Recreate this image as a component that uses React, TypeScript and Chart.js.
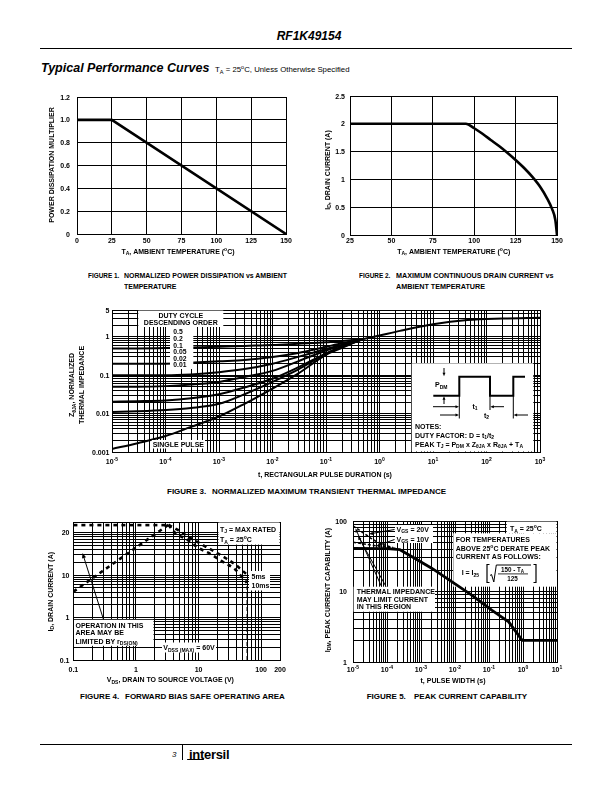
import React, { useEffect, useRef } from "react";
import { Chart, registerables } from "chart.js";

Chart.register(...registerables);

const FONT = "'Liberation Sans', Arial, Helvetica, sans-serif";

/* ================= DATA ================= */
// Figure 1 - normalized power dissipation vs ambient temperature
const fig1Temperature = [0, 25, 150];
const fig1Multiplier = [1.0, 1.0, 0.0];
const fig1XTicks = [0, 25, 50, 75, 100, 125, 150];
const fig1YTicks = [0, 0.2, 0.4, 0.6, 0.8, 1.0, 1.2];
const fig1YLabels = ["0", "0.2", "0.4", "0.6", "0.8", "1.0", "1.2"];

// Figure 2 - maximum continuous drain current vs ambient temperature
const fig2Temperature = [25, 95, 100, 105, 110, 115, 120, 125, 130, 135, 140, 144, 147, 149, 150];
const fig2DrainCurrent = [2, 2, 1.92, 1.82, 1.71, 1.6, 1.48, 1.35, 1.21, 1.05, 0.86, 0.66, 0.47, 0.27, 0];
const fig2XTicks = [25, 50, 75, 100, 125, 150];
const fig2YTicks = [0, 0.5, 1, 1.5, 2, 2.5];
const fig2YLabels = ["0", "0.5", "1", "1.5", "2", "2.5"];

// Figure 3 - normalized transient thermal impedance
const fig3Time = [1e-5, 3e-5, 1e-4, 3e-4, 1e-3, 3e-3, 1e-2, 3e-2, 1e-1, 2e-1, 5e-1];
const fig3Duty050 = [0.5, 0.5, 0.51, 0.53, 0.55, 0.58, 0.61, 0.66, 0.72, 0.78, 0.87];
const fig3Duty020 = [0.2, 0.2, 0.2, 0.21, 0.23, 0.25, 0.3, 0.38, 0.55, 0.68, 0.87];
const fig3Duty010 = [0.1, 0.1, 0.1, 0.105, 0.12, 0.145, 0.2, 0.3, 0.48, 0.62, 0.87];
const fig3Duty005 = [0.05, 0.05, 0.052, 0.057, 0.067, 0.09, 0.13, 0.23, 0.44, 0.6, 0.87];
const fig3Duty002 = [0.0205, 0.021, 0.022, 0.025, 0.032, 0.048, 0.081, 0.16, 0.37, 0.56, 0.87];
const fig3Duty001 = [0.011, 0.0115, 0.0124, 0.014, 0.018, 0.032, 0.067, 0.14, 0.36, 0.55, 0.87];
const fig3SingleTime = [1e-5, 3e-5, 1e-4, 3e-4, 1e-3, 3e-3, 1e-2, 3e-2, 1e-1, 2e-1, 5e-1, 1, 2.4, 10, 44, 200, 1000];
const fig3SinglePulse = [0.0012, 0.0017, 0.0026, 0.0045, 0.0084, 0.018, 0.045, 0.11, 0.34, 0.52, 0.87, 1.08, 1.43, 2.13, 2.74, 3.0, 3.16];
const fig3DutyLabels = ["0.5", "0.2", "0.1", "0.05", "0.02", "0.01"];
const fig3XExponents = [-5, -4, -3, -2, -1, 0, 1, 2, 3];
const fig3YTicks = [0.001, 0.01, 0.1, 1, 5];
const fig3YLabels = ["0.001", "0.01", "0.1", "1", "5"];

// Figure 4 - forward bias safe operating area
const fig4RdsVoltage = [0.1, 3.3];
const fig4RdsCurrent = [4.1, 155];
const fig4LimitVoltage = [0.1, 3.3];
const fig4LimitCurrent = [152, 152];
const fig4Voltage5ms = [3.3, 4.5, 7.35, 11.3, 17.4, 26.6, 38.5, 59];
const fig4Current5ms = [155, 120, 76, 53, 37, 25.7, 17.9, 10.4];
const fig4Voltage10ms = [3.3, 4.2, 6.5, 10, 15.3, 23.5, 38.5, 59];
const fig4Current10ms = [155, 100, 70, 44, 32, 21.4, 13.6, 6.6];
const fig4VdssVoltage = [60, 60];
const fig4VdssCurrent = [0.1, 10];
const fig4XTicks = [0.1, 1, 10, 100, 200];
const fig4XLabels = ["0.1", "1", "10", "100", "200"];
const fig4YTicks = [0.1, 1, 10, 100];
const fig4YLabels = ["0.1", "1", "10", "20"];

// Figure 5 - peak current capability
const fig5Time = [1e-5, 1e-4, 2.4e-4, 5.3e-4, 2.06e-3, 8e-3, 3.1e-2, 1.23e-1, 3.8e-1, 9.5e-1, 10];
const fig5Current = [41, 40.5, 39.2, 31.4, 21.4, 13.8, 8.9, 5.4, 3.7, 2.03, 2.03];
const fig5Time20V = [1e-5, 2e-5, 4e-5, 8e-5, 1.5e-4];
const fig5Current20V = [85, 68, 54, 46, 42];
const fig5Time10V = [1e-5, 3e-5, 1e-4, 2e-4];
const fig5Current10V = [50, 46, 42.5, 40.5];
const fig5XExponents = [-5, -4, -3, -2, -1, 0, 1];
const fig5YTicks = [1, 10, 100];
const fig5YLabels = ["1", "10", "100"];

/* ================= HELPERS ================= */
type Seg = { t: string; k: number };
function parseRich(s: string): Seg[] {
  const out: Seg[] = [];
  const re = /([_^])\{([^}]*)\}/g;
  let last = 0;
  let m: any;
  while ((m = re.exec(s))) {
    if (m.index > last) out.push({ t: s.slice(last, m.index), k: 0 });
    out.push({ t: m[2], k: m[1] === "_" ? 1 : 2 });
    last = re.lastIndex;
  }
  if (last < s.length) out.push({ t: s.slice(last), k: 0 });
  return out;
}
function fontFor(size: number, k: number, weight: string) {
  const sz = k ? size * 0.72 : size;
  return `${weight} ${sz}px ${FONT}`;
}
function rich(ctx: any, s: string, x: number, y: number, size: number, align = "left", weight = "bold") {
  const segs = parseRich(s);
  let w = 0;
  for (const g of segs) {
    ctx.font = fontFor(size, g.k, weight);
    w += ctx.measureText(g.t).width;
  }
  let cx = align === "center" ? x - w / 2 : align === "right" ? x - w : x;
  ctx.textAlign = "left";
  ctx.textBaseline = "alphabetic";
  ctx.fillStyle = "#000";
  for (const g of segs) {
    ctx.font = fontFor(size, g.k, weight);
    const dy = g.k === 1 ? size * 0.28 : g.k === 2 ? -size * 0.42 : 0;
    ctx.fillText(g.t, cx, y + dy);
    cx += ctx.measureText(g.t).width;
  }
  return w;
}
function vrich(ctx: any, s: string, xc: number, yc: number, size: number) {
  ctx.save();
  ctx.translate(xc + size * 0.36, yc);
  ctx.rotate(-Math.PI / 2);
  rich(ctx, s, 0, 0, size, "center");
  ctx.restore();
}
function poly(ctx: any, pts: number[][], width = 1) {
  ctx.strokeStyle = "#000";
  ctx.lineWidth = width;
  ctx.setLineDash([]);
  ctx.beginPath();
  pts.forEach((p, i) => (i ? ctx.lineTo(p[0], p[1]) : ctx.moveTo(p[0], p[1])));
  ctx.stroke();
}
function arrow(ctx: any, x1: number, y1: number, x2: number, y2: number, head = 4, width = 1) {
  const a = Math.atan2(y2 - y1, x2 - x1);
  const c = Math.cos(a), s = Math.sin(a);
  poly(ctx, [[x1, y1], [x2 - c * head * 0.7, y2 - s * head * 0.7]], width);
  ctx.fillStyle = "#000";
  ctx.beginPath();
  ctx.moveTo(x2, y2);
  ctx.lineTo(x2 - head * c + head * 0.42 * s, y2 - head * s - head * 0.42 * c);
  ctx.lineTo(x2 - head * c - head * 0.42 * s, y2 - head * s + head * 0.42 * c);
  ctx.closePath();
  ctx.fill();
}
function white(ctx: any, x: number, y: number, w: number, h: number) {
  ctx.fillStyle = "#fff";
  ctx.fillRect(x, y, w, h);
  ctx.fillStyle = "#000";
}
function logGrid(min: number, max: number) {
  const out: number[] = [];
  const e0 = Math.floor(Math.log10(min) + 1e-9);
  const e1 = Math.ceil(Math.log10(max) - 1e-9);
  for (let e = e0; e <= e1; e++) {
    for (let m = 1; m < 10; m++) {
      const v = m * Math.pow(10, e);
      if (v >= min * 0.999 && v <= max * 1.001) out.push(v);
    }
  }
  if (out[out.length - 1] < max * 0.999) out.push(max);
  return out;
}
function axis(type: string, min: number, max: number, gridValues: number[], position: string) {
  return {
    type,
    position,
    min,
    max,
    ticks: { display: false },
    afterBuildTicks: (s: any) => {
      s.ticks = gridValues.map((v) => ({ value: v }));
    },
    grid: { color: "#000", lineWidth: 1, drawTicks: false },
    border: { display: true, color: "#000", width: 1 },
  };
}
function series(xs: number[], ys: number[], width: number, dash: number[] = [], smooth = false) {
  return {
    data: xs.map((x, i) => ({ x, y: ys[i] })),
    showLine: true,
    borderColor: "#000",
    backgroundColor: "#000",
    borderWidth: width,
    borderDash: dash,
    pointRadius: 0,
    fill: false,
    tension: 0,
    cubicInterpolationMode: smooth ? "monotone" : "default",
    borderCapStyle: "butt",
    borderJoinStyle: "round",
  };
}
type Helper = { sx: (v: number) => number; sy: (v: number) => number; l: number; t: number; r: number; b: number };
type DrawFn = (ctx: any, h: Helper) => void;
function makePlugin(ox: number, oy: number, before: DrawFn | null, after: DrawFn | null) {
  const run = (chart: any, fn: DrawFn | null) => {
    if (!fn) return;
    const ctx = chart.ctx;
    const a = chart.chartArea;
    const h: Helper = {
      sx: (v) => chart.scales.x.getPixelForValue(v) + ox,
      sy: (v) => chart.scales.y.getPixelForValue(v) + oy,
      l: a.left + ox,
      t: a.top + oy,
      r: a.right + ox,
      b: a.bottom + oy,
    };
    ctx.save();
    ctx.translate(-ox, -oy);
    fn(ctx, h);
    ctx.restore();
  };
  return {
    id: "sheetDraw",
    beforeDatasetsDraw: (c: any) => run(c, before),
    afterDatasetsDraw: (c: any) => run(c, after),
  };
}
function baseConfig(datasets: any[], xAxis: any, yAxis: any, plugin: any) {
  return {
    type: "scatter",
    data: { datasets },
    options: {
      responsive: false,
      animation: false,
      events: [],
      layout: { padding: 0 },
      plugins: { legend: { display: false }, tooltip: { enabled: false }, title: { display: false } },
      scales: { x: xAxis, y: yAxis },
    },
    plugins: [plugin],
  };
}

/* ================= FIGURE BUILDERS ================= */
const buildFig1 = (ox: number, oy: number) =>
  baseConfig(
    [series(fig1Temperature, fig1Multiplier, 2.6)],
    axis("linear", 0, 150, fig1XTicks, "bottom"),
    axis("linear", 0, 1.2, fig1YTicks, "left"),
    makePlugin(ox, oy, null, (ctx, h) => {
      fig1XTicks.forEach((v) => rich(ctx, String(v), h.sx(v), 243.2, 7, "center"));
      fig1YTicks.forEach((v, i) => rich(ctx, fig1YLabels[i], 70, h.sy(v) + 2.5, 7, "right"));
      rich(ctx, "T_{A}, AMBIENT TEMPERATURE (^{o}C)", 178, 253.5, 7, "center");
      vrich(ctx, "POWER DISSIPATION MULTIPLIER", 51, 165, 7);
    })
  );

const buildFig2 = (ox: number, oy: number) =>
  baseConfig(
    [series(fig2Temperature, fig2DrainCurrent, 2.6, [], true)],
    axis("linear", 25, 150, fig2XTicks, "bottom"),
    axis("linear", 0, 2.5, fig2YTicks, "left"),
    makePlugin(ox, oy, null, (ctx, h) => {
      fig2XTicks.forEach((v) => rich(ctx, String(v), h.sx(v), 243.2, 7, "center"));
      fig2YTicks.forEach((v, i) => rich(ctx, fig2YLabels[i], 345, h.sy(v) + 2.5, 7, "right"));
      rich(ctx, "T_{A}, AMBIENT TEMPERATURE (^{o}C)", 453.7, 253.5, 7, "center");
      vrich(ctx, "I_{D}, DRAIN CURRENT (A)", 327, 170, 7);
    })
  );

const buildFig3 = (ox: number, oy: number) =>
  baseConfig(
    [
      series(fig3Time, fig3Duty050, 2, [], true),
      series(fig3Time, fig3Duty020, 2, [], true),
      series(fig3Time, fig3Duty010, 2, [], true),
      series(fig3Time, fig3Duty005, 2, [], true),
      series(fig3Time, fig3Duty002, 2, [], true),
      series(fig3Time, fig3Duty001, 2, [], true),
      series(fig3SingleTime, fig3SinglePulse, 2, [], true),
    ],
    axis("logarithmic", 1e-5, 1e3, logGrid(1e-5, 1e3), "bottom"),
    axis("logarithmic", 0.001, 5, logGrid(0.001, 5), "left"),
    makePlugin(ox, oy, null, (ctx, h) => {
      // duty cycle legend box
      white(ctx, 138.3, 310.6, 85, 16.4);
      white(ctx, 170, 326.5, 23.3, 42.5);
      rich(ctx, "DUTY CYCLE", 180.8, 318.2, 7, "center");
      rich(ctx, "DESCENDING ORDER", 180.8, 324.9, 7, "center");
      fig3DutyLabels.forEach((s, i) => rich(ctx, s, 173.3, 334.2 + i * 6.65, 6.8));
      // single pulse label
      white(ctx, 151.7, 440, 53.3, 8.5);
      rich(ctx, "SINGLE PULSE", 178.3, 446.8, 7, "center");
      // notes box
      white(ctx, 411.7, 363.3, 121.6, 88.2);
      poly(ctx, [[433.3, 395.7], [459.3, 395.7], [459.3, 376.7], [490, 376.7], [490, 395.7], [513.3, 395.7], [513.3, 376.7], [525, 376.7]], 2);
      rich(ctx, "P_{DM}", 435, 387, 7);
      arrow(ctx, 444, 368, 444, 376.2, 3.5);
      arrow(ctx, 444, 404, 444, 396.3, 3.5);
      poly(ctx, [[459.3, 396], [459.3, 418.5]], 1);
      poly(ctx, [[490, 396], [490, 410]], 1);
      poly(ctx, [[513.3, 396], [513.3, 418.5]], 1);
      arrow(ctx, 433, 406.7, 459, 406.7, 3.5);
      arrow(ctx, 504, 406.7, 490.3, 406.7, 3.5);
      rich(ctx, "t_{1}", 472.5, 408.5, 7);
      arrow(ctx, 440, 415, 459, 415, 3.5);
      arrow(ctx, 528, 415, 513.6, 415, 3.5);
      rich(ctx, "t_{2}", 484, 417.5, 7);
      rich(ctx, "NOTES:", 415, 428.5, 7);
      rich(ctx, "DUTY FACTOR: D = t_{1}/t_{2}", 415, 437.5, 7);
      rich(ctx, "PEAK T_{J} = P_{DM} x Z_{θJA} x R_{θJA} + T_{A}", 415, 446.5, 7);
      // ticks
      fig3XExponents.forEach((e) => rich(ctx, `10^{${e}}`, h.sx(Math.pow(10, e)), 463.5, 7, "center"));
      fig3YTicks.forEach((v, i) => rich(ctx, fig3YLabels[i], 109.5, h.sy(v) + 2.5, 7, "right"));
      rich(ctx, "t, RECTANGULAR PULSE DURATION (s)", 325, 477, 7, "center");
      vrich(ctx, "Z_{θJA}, NORMALIZED", 71.5, 385, 7);
      vrich(ctx, "THERMAL IMPEDANCE", 81, 385, 7);
    })
  );

const buildFig4 = (ox: number, oy: number) =>
  baseConfig(
    [
      series(fig4RdsVoltage, fig4RdsCurrent, 2.6, [4, 4]),
      series(fig4LimitVoltage, fig4LimitCurrent, 2.6, [4, 4]),
      series(fig4Voltage5ms, fig4Current5ms, 2.6, [4, 4], true),
      series(fig4Voltage10ms, fig4Current10ms, 2.6, [4, 4], true),
      series(fig4VdssVoltage, fig4VdssCurrent, 1.5, [4, 3]),
    ],
    axis("logarithmic", 0.1, 200, logGrid(0.1, 200), "bottom"),
    axis("logarithmic", 0.1, 180, logGrid(0.1, 180), "left"),
    makePlugin(ox, oy, null, (ctx, h) => {
      const tjL = h.sx(20) + 1;
      const tjB = h.sy(50) - 1;
      white(ctx, tjL, h.t + 0.5, h.r - 0.5 - tjL, tjB - h.t - 0.5);
      rich(ctx, "T_{J} = MAX RATED", 220, 531.5, 7);
      rich(ctx, "T_{A} = 25^{o}C", 220, 542, 7);
      white(ctx, 249, 571, 21, 19.5);
      rich(ctx, "5ms", 251.5, 578.5, 7);
      rich(ctx, "10ms", 251.5, 588.2, 7);
      white(ctx, 162, 642.5, 54, 10);
      rich(ctx, "V_{DSS (MAX)} = 60V", 189, 650.3, 7, "center");
      white(ctx, 74, 619.8, 79.5, 26);
      rich(ctx, "OPERATION IN THIS", 75.5, 627.6, 7);
      rich(ctx, "AREA MAY BE", 75.5, 635.3, 7);
      rich(ctx, "LIMITED BY r_{DS(ON)}", 75.5, 643.5, 7);
      arrow(ctx, 103.5, 619.5, 82.5, 553, 5);
      fig4XTicks.forEach((v, i) => rich(ctx, fig4XLabels[i], h.sx(v), 671.8, 7, "center"));
      fig4YTicks.forEach((v, i) => rich(ctx, fig4YLabels[i], 69.5, h.sy(v) + 2.5, 7, "right"));
      rich(ctx, "V_{DS}, DRAIN TO SOURCE VOLTAGE (V)", 170.3, 681.8, 7, "center");
      vrich(ctx, "I_{D}, DRAIN CURRENT (A)", 50, 591.7, 7);
    })
  );

const buildFig5 = (ox: number, oy: number) =>
  baseConfig(
    [
      series(fig5Time, fig5Current, 2.8),
      series(fig5Time20V, fig5Current20V, 1.5, [3, 2], true),
      series(fig5Time10V, fig5Current10V, 1.5, [3, 2], true),
    ],
    axis("logarithmic", 1e-5, 10, logGrid(1e-5, 10), "bottom"),
    axis("logarithmic", 1, 100, logGrid(1, 100), "left"),
    makePlugin(
      ox,
      oy,
      (ctx) => {
        white(ctx, 506.7, 521.6, 49.8, 11.7);
        white(ctx, 453.3, 533.3, 103.2, 53.4);
        white(ctx, 353.6, 586.7, 81.4, 25);
        white(ctx, 395, 525, 38, 18);
      },
      (ctx, h) => {
        rich(ctx, "T_{A} = 25^{o}C", 510, 530.6, 7);
        rich(ctx, "FOR TEMPERATURES", 455.7, 541.5, 7);
        rich(ctx, "ABOVE 25^{o}C DERATE PEAK", 455.7, 550.8, 7);
        rich(ctx, "CURRENT AS FOLLOWS:", 455.7, 559.2, 7);
        // formula
        rich(ctx, "I = I_{25}", 461.7, 574.8, 7);
        poly(ctx, [[489.5, 564.5], [487, 564.5], [487, 582.5], [489.5, 582.5]], 1.2);
        poly(ctx, [[490, 575.5], [491.5, 574.5], [493.8, 582], [496.3, 565], [531, 565]], 1);
        rich(ctx, "150 - T_{A}", 512.5, 571.6, 6.3, "center");
        poly(ctx, [[498, 573.9], [528, 573.9]], 0.8);
        rich(ctx, "125", 512.5, 580.8, 6.3, "center");
        poly(ctx, [[533.5, 564.5], [536, 564.5], [536, 582.5], [533.5, 582.5]], 1.2);
        // VGS labels
        rich(ctx, "V_{GS} = 20V", 396.5, 531.5, 7);
        rich(ctx, "V_{GS} = 10V", 396.5, 541.5, 7);
        arrow(ctx, 394.5, 529.5, 369, 534, 4);
        arrow(ctx, 394.5, 539.5, 376.5, 546, 4);
        // thermal impedance note
        rich(ctx, "THERMAL IMPEDANCE", 356.7, 593.5, 7);
        rich(ctx, "MAY LIMIT CURRENT", 356.7, 601.5, 7);
        rich(ctx, "IN THIS REGION", 356.7, 609.2, 7);
        arrow(ctx, 381.5, 586.5, 355.5, 528.5, 4);
        arrow(ctx, 386, 586.5, 358, 536, 4);
        // ticks
        fig5XExponents.forEach((e) => rich(ctx, `10^{${e}}`, h.sx(Math.pow(10, e)), 672, 7, "center"));
        fig5YTicks.forEach((v, i) => rich(ctx, fig5YLabels[i], 347, h.sy(v) + 2.5, 7, "right"));
        rich(ctx, "t, PULSE WIDTH (s)", 453, 682.5, 7, "center");
        vrich(ctx, "I_{DM}, PEAK CURRENT CAPABILITY (A)", 327, 590, 7);
      }
    )
  );

/* ================= COMPONENTS ================= */
function ChartBox({ box, plot, build }: { box: number[]; plot: number[]; build: (ox: number, oy: number) => any }) {
  const ref = useRef<HTMLCanvasElement>(null);
  const [left, top, width, height] = box;
  useEffect(() => {
    const cfg = build(left, top);
    cfg.options.layout = {
      padding: { left: plot[0] - left, top: plot[1] - top, right: left + width - plot[2], bottom: top + height - plot[3] },
    };
    const chart = new Chart(ref.current as HTMLCanvasElement, cfg as any);
    return () => chart.destroy();
  }, []);
  return <canvas ref={ref} width={width} height={height} style={{ position: "absolute", left, top, width, height }} />;
}

function Caption({ x, textX, cy, num, lines, k, kLabel }: { x: number; textX: number; cy: number; num: number; lines: string[]; k: number; kLabel: number }) {
  const size = 8;
  const st = (l: number, t: number, sc: number): any => ({
    position: "absolute",
    left: l,
    top: t - size / 2,
    fontSize: size,
    lineHeight: 1,
    fontWeight: "bold",
    whiteSpace: "nowrap",
    transform: `scaleX(${sc})`,
    transformOrigin: "0 0",
  });
  return (
    <>
      <div style={st(x, cy, kLabel)}>{`FIGURE ${num}.`}</div>
      {lines.map((ln, i) => (
        <div key={i} style={st(textX, cy + i * 11, k)}>
          {ln}
        </div>
      ))}
    </>
  );
}

const abs = (left: number, top: number, extra: any = {}): any => ({
  position: "absolute",
  left,
  top,
  lineHeight: 1,
  whiteSpace: "nowrap",
  ...extra,
});

export default function App() {
  return (
    <div style={{ position: "absolute", left: 0, top: 0, width: 612, height: 792, background: "#fff", fontFamily: FONT, color: "#000" }}>
      {/* header */}
      <div style={abs(209, 30, { width: 200, textAlign: "center", fontSize: 12, fontWeight: "bold", fontStyle: "italic" })}>RF1K49154</div>
      <div style={abs(40, 48, { width: 532, height: 1, background: "#000" })} />
      <div style={abs(41, 61.8, { fontSize: 12.5, fontWeight: "bold", fontStyle: "italic" })}>Typical Performance Curves</div>
      <div style={abs(215, 64.8, { fontSize: 7.8 })}>
        T<span style={{ fontSize: 5.6, verticalAlign: "-1.5px" }}>A</span> = 25
        <span style={{ fontSize: 5.6, verticalAlign: "3.2px" }}>o</span>C, Unless Otherwise Specified
      </div>

      {/* charts */}
      <ChartBox box={[40, 88, 262, 172]} plot={[77, 97, 286, 234]} build={buildFig1} />
      <ChartBox box={[318, 88, 256, 172]} plot={[350, 96, 557, 235]} build={buildFig2} />
      <ChartBox box={[60, 303, 500, 182]} plot={[112, 310, 540, 452]} build={buildFig3} />
      <ChartBox box={[40, 512, 262, 176]} plot={[73.4, 522, 280, 660]} build={buildFig4} />
      <ChartBox box={[318, 512, 256, 176]} plot={[353, 521, 557, 662]} build={buildFig5} />

      {/* captions */}
      <Caption x={87.7} textX={124} cy={275.7} k={0.87} kLabel={0.8} num={1} lines={["NORMALIZED POWER DISSIPATION vs AMBIENT", "TEMPERATURE"]} />
      <Caption x={359.3} textX={396} cy={275.7} k={0.9} kLabel={0.8} num={2} lines={["MAXIMUM CONTINUOUS DRAIN CURRENT vs", "AMBIENT TEMPERATURE"]} />
      <Caption x={167} textX={212} cy={491.5} k={1} kLabel={1} num={3} lines={["NORMALIZED MAXIMUM TRANSIENT THERMAL IMPEDANCE"]} />
      <Caption x={80} textX={125} cy={697.3} k={1} kLabel={1} num={4} lines={["FORWARD BIAS SAFE OPERATING AREA"]} />
      <Caption x={366.7} textX={414} cy={697.3} k={1} kLabel={1} num={5} lines={["PEAK CURRENT CAPABILITY"]} />

      {/* footer */}
      <div style={abs(40, 744, { width: 532, height: 1, background: "#000" })} />
      <div style={abs(172, 751, { fontSize: 8, fontStyle: "italic" })}>3</div>
      <div style={abs(181.5, 744, { width: 1, height: 16, background: "#000" })} />
      <div style={abs(189, 747.5, { fontSize: 13, fontWeight: "bold", letterSpacing: "-0.3px" })}>intersil</div>
      <div style={abs(187, 758.5, { width: 17, height: 1.5, background: "#000", borderRadius: 1 })} />
    </div>
  );
}
